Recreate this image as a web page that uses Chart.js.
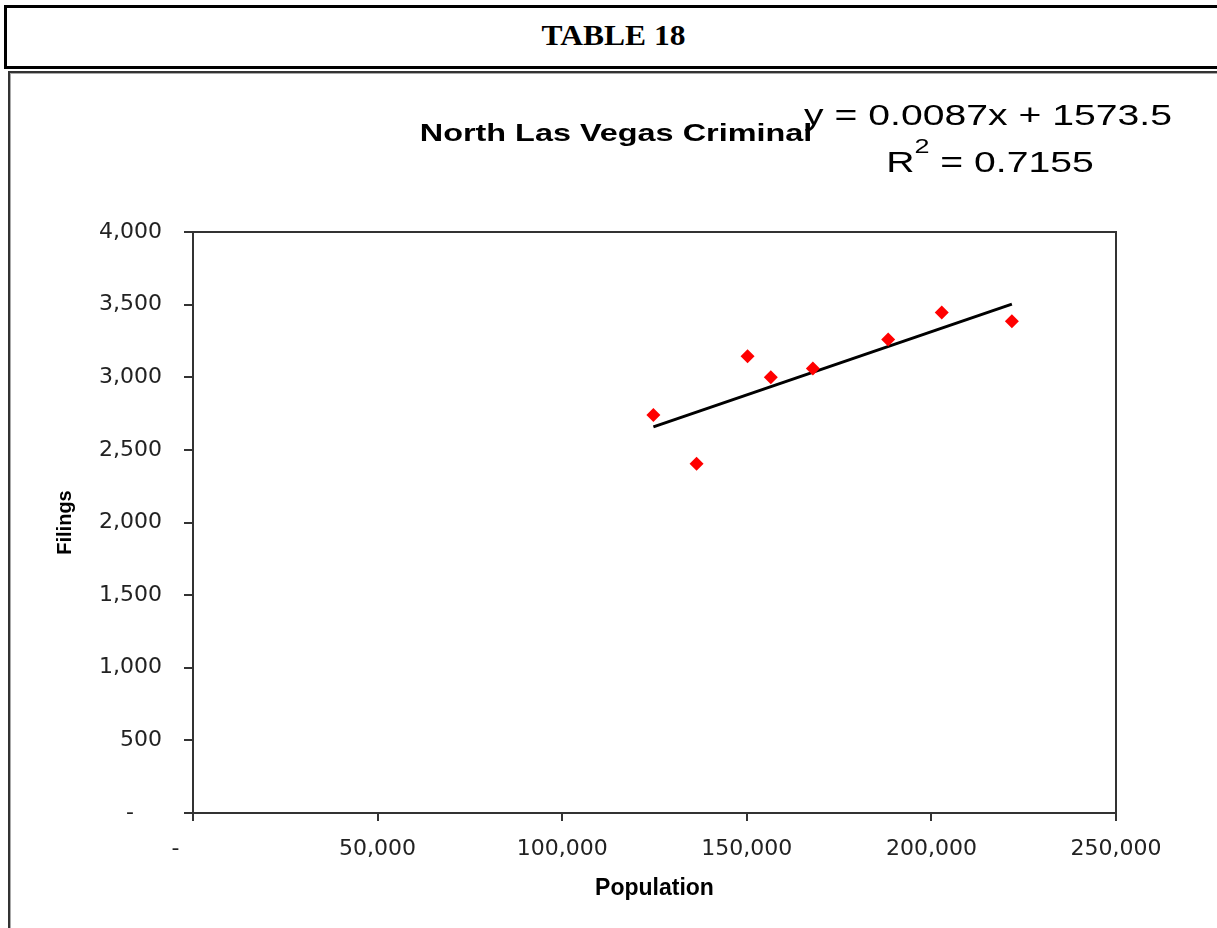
<!DOCTYPE html>
<html>
<head>
<meta charset="utf-8">
<title>North Las Vegas Criminal</title>
<script src="https://cdn.jsdelivr.net/npm/chart.js@4.4.1/dist/chart.umd.min.js"></script>
<style>
  html, body { margin: 0; padding: 0; background: #fff; }
  body { width: 1217px; height: 928px; overflow: hidden; position: relative; }

  .table-head {
    position: absolute; left: 4px; top: 5px; width: 1213px; height: 58px;
    border: 3px solid #000; text-align: center;
  }
  .table-head span {
    display: inline-block; font: bold 30px "Liberation Serif", "Times New Roman", serif;
    line-height: 54px; transform: scaleX(1.05);
  }

  .chart-frame {
    position: absolute; left: 8px; top: 71px; width: 1230px; height: 900px;
    border-left: 2px solid #333; border-top: 2px solid #333;
    box-shadow: inset 1px 1px 0 #aaa;
  }
  #chart { position: absolute; left: 12px; top: 76px; }
</style>
</head>
<body>
<div class="table-head"><span>TABLE 18</span></div>
<div class="chart-frame"></div>
<canvas id="chart" width="1205" height="852"></canvas>

<script>
  // population vs. criminal filings, one point per year
  var population = [124700, 136400, 150200, 156500, 167900, 188300, 202800, 221800];
  var filings = [2740, 2405, 3145, 3000, 3060, 3260, 3445, 3385];

  // linear trend shown on the chart
  var trendSlope = 0.0087;
  var trendIntercept = 1573.5;
  var trendR2 = 0.7155;

  var xTickLabels = ['-', '50,000', '100,000', '150,000', '200,000', '250,000'];
  var yTickLabels = ['-', '500', '1,000', '1,500', '2,000', '2,500', '3,000', '3,500', '4,000'];

  var SANS = '"Liberation Sans", Arial, sans-serif';

  var points = population.map(function (p, i) { return { x: p, y: filings[i] }; });
  var xMin = Math.min.apply(null, population);
  var xMax = Math.max.apply(null, population);
  var trend = [xMin, xMax].map(function (x) { return { x: x, y: trendSlope * x + trendIntercept }; });

  // excel-style text is drawn wider than the font's natural width
  function wideText(ctx, text, cx, y, font, sx) {
    ctx.save();
    ctx.font = font;
    ctx.translate(cx, y);
    ctx.scale(sx, 1);
    ctx.textAlign = 'center';
    ctx.fillText(text, 0, 0);
    ctx.restore();
  }

  function drawR2(ctx, cx, y, sx) {
    var big = '29px ' + SANS;
    var small = '20px ' + SANS;
    var rest = ' = ' + trendR2.toFixed(4);
    ctx.save();
    ctx.translate(cx, y);
    ctx.scale(sx, 1);
    ctx.textAlign = 'left';
    ctx.font = big;
    var wR = ctx.measureText('R').width;
    var wRest = ctx.measureText(rest).width;
    ctx.font = small;
    var w2 = ctx.measureText('2').width;
    var x = -(wR + w2 + wRest) / 2;
    ctx.font = big; ctx.fillText('R', x, 0); x += wR;
    ctx.font = small; ctx.fillText('2', x, -19); x += w2;
    ctx.font = big; ctx.fillText(rest, x, 0);
    ctx.restore();
  }

  var chartDecor = {
    id: 'chartDecor',
    afterDraw: function (chart) {
      var ctx = chart.ctx, a = chart.chartArea;
      ctx.save();
      ctx.strokeStyle = '#333';
      ctx.lineWidth = 2;
      ctx.strokeRect(a.left, a.top, a.right - a.left, a.bottom - a.top);

      ctx.fillStyle = '#000';
      ctx.textBaseline = 'alphabetic';
      wideText(ctx, 'North Las Vegas Criminal', 604, 65, 'bold 24px ' + SANS, 1.35);
      wideText(ctx, 'y = ' + trendSlope + 'x + ' + trendIntercept, 976, 49, '29px ' + SANS, 1.35);
      drawR2(ctx, 978, 96, 1.35);
      ctx.restore();
    }
  };

  new Chart(document.getElementById('chart'), {
    type: 'scatter',
    data: {
      datasets: [
        {
          label: 'Filings',
          data: points,
          pointStyle: 'rectRot',
          pointRadius: 7,
          backgroundColor: '#ff0000',
          borderColor: '#ff0000',
          borderWidth: 0
        },
        {
          label: 'Linear (Filings)',
          data: trend,
          showLine: true,
          borderColor: '#000',
          borderWidth: 3,
          pointRadius: 0
        }
      ]
    },
    options: {
      responsive: false,
      animation: false,
      layout: { padding: { top: 156, right: 101, left: 0, bottom: 0 } },
      plugins: {
        legend: { display: false },
        tooltip: { enabled: false },
        title: { display: false }
      },
      scales: {
        x: {
          type: 'linear',
          min: 0,
          max: 250000,
          ticks: {
            stepSize: 50000,
            autoSkip: false,
            maxRotation: 0,
            padding: 15,
            color: '#222',
            font: { family: 'DejaVu Sans', size: 22 },
            callback: function (v, i) { return i === 0 ? xTickLabels[i] + '     ' : xTickLabels[i]; }
          },
          grid: { drawOnChartArea: false, tickLength: 8, color: '#333', lineWidth: 2 },
          border: { color: '#333', width: 2 },
          title: {
            display: true,
            text: 'Population',
            color: '#000',
            font: { family: 'Liberation Sans', weight: 'bold', size: 23 },
            padding: { top: 0, bottom: 26 }
          },
          afterFit: function (s) { s.height = 115; }
        },
        y: {
          min: 0,
          max: 4000,
          ticks: {
            stepSize: 500,
            autoSkip: false,
            padding: 22,
            color: '#222',
            font: { family: 'DejaVu Sans', size: 22 },
            callback: function (v, i) { return i === 0 ? yTickLabels[i] + '    ' : yTickLabels[i]; }
          },
          grid: { drawOnChartArea: false, tickLength: 9, color: '#333', lineWidth: 2 },
          border: { color: '#333', width: 2 },
          title: {
            display: true,
            text: 'Filings',
            color: '#000',
            font: { family: 'Liberation Sans', weight: 'bold', size: 20 },
            padding: { top: 41, bottom: 0 }
          },
          afterFit: function (s) { s.width = 181; }
        }
      }
    },
    plugins: [chartDecor]
  });
</script>
</body>
</html>
